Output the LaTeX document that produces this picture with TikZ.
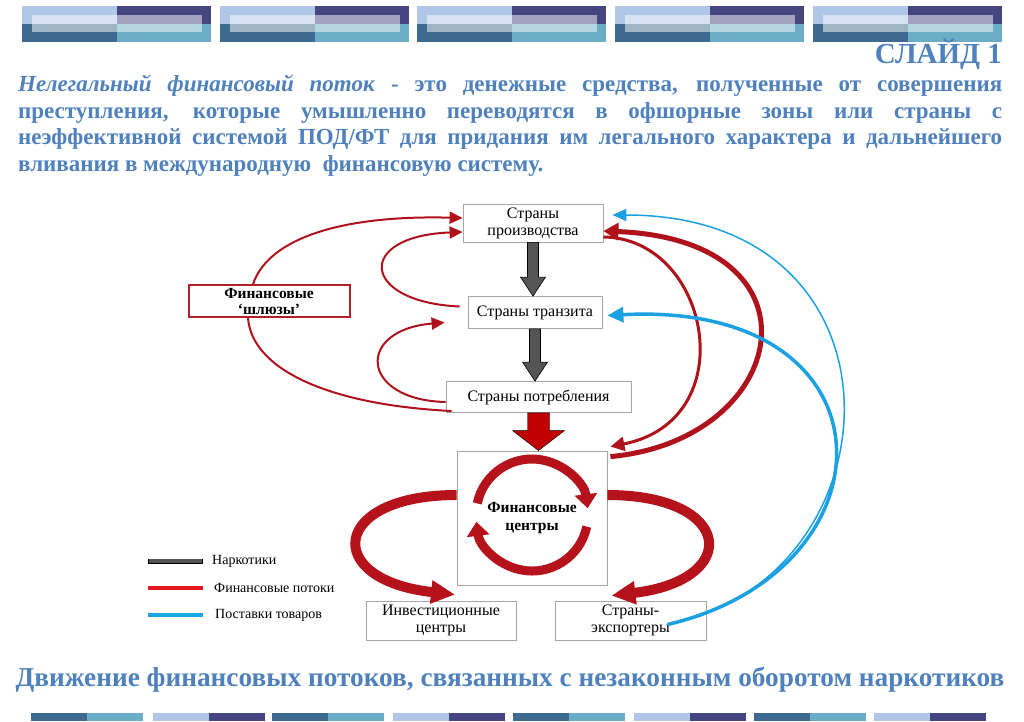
\documentclass[tikz,border=0pt]{standalone}
\usepackage{fontspec}
\setmainfont{Liberation Serif}
\usepackage{xcolor}
\usetikzlibrary{arrows.meta,calc}

\definecolor{slideblue}{HTML}{4F81BD}
\definecolor{bannerlight}{HTML}{B0C7E8}
\definecolor{bannernavy}{HTML}{45457F}
\definecolor{bannerdark}{HTML}{3E6A8F}
\definecolor{bannerteal}{HTML}{6AADC5}
\definecolor{boxgray}{HTML}{A6A6A6}
\definecolor{gatered}{HTML}{B4202A}
\definecolor{flowred}{HTML}{B0121B}
\definecolor{ribbonred}{HTML}{B5121B}
\definecolor{blockred}{HTML}{C00000}
\definecolor{druggray}{HTML}{555555}
\definecolor{supplyblue}{HTML}{1BA1E2}
\definecolor{legendred}{HTML}{E3161C}
\definecolor{legendblue}{HTML}{1BA8E0}

\tikzset{
  box/.style={draw=boxgray, fill=white, line width=0.8pt, align=center, inner sep=0pt,
    font=\fontsize{16}{17}\selectfont},
  gatebox/.style={draw=gatered, fill=white, line width=2pt, align=center, inner sep=0pt,
    font=\bfseries\fontsize{15.5}{16}\selectfont},
  blockarrow/.style n args={3}{to path={let \p1=(\tikztostart), \p2=(\tikztotarget) in
    (\x1-#1,\y1) -- (\x1-#1,\y2+#3) -- (\x1-#2,\y2+#3) -- (\x1,\y2)
    -- (\x1+#2,\y2+#3) -- (\x1+#1,\y2+#3) -- (\x1+#1,\y1) -- cycle}},
  drugarrow/.style={draw=black, fill=druggray, line width=0.6pt, blockarrow={5.5pt}{12.5pt}{19pt}},
  moneyblock/.style={fill=blockred, blockarrow={11pt}{26pt}{20pt}},
  flowthin/.style={draw=flowred, line width=2pt, -{Triangle[length=13pt,width=12pt]}},
  flowmid/.style={draw=flowred, line width=3pt, -{Triangle[length=14pt,width=14pt]}},
  flowthick/.style={draw=flowred, line width=5pt, -{Triangle[length=15pt,width=17pt]}},
  ribbon/.style={draw=ribbonred, line width=10pt, -{Triangle[length=24pt,width=22pt]}},
  cycleflow/.style={draw=ribbonred, line width=9pt, -{Triangle[length=14pt,width=22pt]}},
  supplythin/.style={draw=supplyblue, line width=1.5pt, -{Triangle[length=14pt,width=12pt]}},
  supplythick/.style={draw=supplyblue, line width=3.5pt, -{Triangle[length=16pt,width=15pt]}},
  legendtext/.style={anchor=west, inner sep=0pt, font=\fontsize{14}{15}\selectfont},
  bodyline/.style={anchor=base west, inner sep=0pt, text=slideblue,
    font=\bfseries\fontsize{23}{26}\selectfont},
}

\begin{document}
\begin{tikzpicture}[x=1pt,y=-1pt]
\useasboundingbox (0,0) rectangle (1024,721);
\fill[white] (0,0) rectangle (1024,721);

% top banner
\foreach \l in {22,220,417,615,813}{
  \fill[bannerlight] (\l,6) rectangle ++(94.5,18);
  \fill[bannernavy] (\l+94.5,6) rectangle ++(94.5,18);
  \fill[bannerdark] (\l,24) rectangle ++(94.5,18);
  \fill[bannerteal] (\l+94.5,24) rectangle ++(94.5,18);
  \fill[white, opacity=0.5] (\l+10,15) rectangle ++(170,17);
}
% bottom banner
\foreach \l in {31,272,513,754}{
  \fill[bannerdark] (\l,713) rectangle ++(56,8);
  \fill[bannerteal] (\l+56,713) rectangle ++(56,8);
}
\foreach \l in {153,393,634,874}{
  \fill[bannerlight] (\l,713) rectangle ++(56,8);
  \fill[bannernavy] (\l+56,713) rectangle ++(56,8);
}

\node[anchor=base east, inner sep=0pt, text=slideblue, font=\bfseries\fontsize{29}{30}\selectfont]
  (slide) at (1002,63) {СЛАЙД 1};
\node[bodyline] (line1) at (18,91) {\makebox[984pt][s]{\textit{Нелегальный финансовый поток} - это денежные средства, полученные от совершения}};
\node[bodyline] (line2) at (18,118) {\makebox[984pt][s]{преступления, которые умышленно переводятся в офшорные зоны или страны с}};
\node[bodyline] (line3) at (18,144.5) {\makebox[984pt][s]{неэффективной системой ПОД/ФТ для придания им легального характера и дальнейшего}};
\node[bodyline] (line4) at (18,171) {вливания в международную\ \ финансовую систему.};

% boxes
\node[box, minimum width=140pt, minimum height=38pt] (prod) at (533,223) {Страны\\производства};
\node[box, minimum width=134pt, minimum height=32pt] (trans) at (535,312.5) {Страны транзита};
\node[box, minimum width=185pt, minimum height=31pt] (cons) at (538.5,397) {Страны потребления};
\node[box, minimum width=150pt, minimum height=134pt, font=\bfseries\fontsize{15.5}{17.5}\selectfont]
  (fin) at (532,518) {Финансовые\\центры};
\node[box, minimum width=150pt, minimum height=39pt] (invest) at (441,620.5) {Инвестиционные\\центры};
\node[box, minimum width=151pt, minimum height=39pt] (export) at (630.5,620.5) {Страны-\\экспортеры};
\node[gatebox, minimum width=161pt, minimum height=32pt] (gate) at (269,301) {Финансовые\\‘шлюзы’};

% drugs
\draw[drugarrow] (prod.south) to (trans.north);
\draw[drugarrow] (trans.south) to (cons.north);
\draw[moneyblock] (cons.south) to (fin.north);

% left loops
\draw[flowthin, -] ([xshift=6pt,yshift=-14pt]cons.west) .. controls (330,405) and (252,370) .. ([xshift=-21pt]gate.south);
\draw[flowthin] ([xshift=-16pt]gate.north) .. controls (270,235) and (350,215) .. ([yshift=5pt]prod.west);
\draw[flowthin] ([xshift=-8pt,yshift=6pt]trans.west) .. controls (360,302) and (355,236) .. ([yshift=-9pt]prod.west);
\coordinate (transin) at ([xshift=-23pt,yshift=-10pt]trans.west);
\draw[flowthin] ([yshift=-5pt]cons.west) .. controls (360,400) and (355,330) .. (transin);

% right loops
\draw[flowthick] ([xshift=3pt,yshift=-6pt]fin.north east) .. controls (790,440) and (830,240) .. ([yshift=-8pt]prod.east);
\draw[flowmid] ([yshift=-14pt]prod.east) .. controls (710,238) and (745,420) .. ([xshift=3pt,yshift=4pt]fin.north east);

% supplies
\coordinate (exportout) at ([xshift=37pt,yshift=-4pt]export.center);
\draw[supplythin] (exportout) .. controls (900,580) and (920,215) .. ([xshift=9pt,yshift=8pt]prod.east);
\draw[supplythick] (exportout) .. controls (900,570) and (900,300) .. ([xshift=5pt,yshift=-3pt]trans.east);

% out of the centres
\draw[ribbon] ([yshift=23pt]fin.west) .. controls (330,495) and (322,580) .. ([xshift=14pt,yshift=6pt]invest.north);
\draw[ribbon] ([yshift=23pt]fin.east) .. controls (734,495) and (742,580) .. ([xshift=-19pt,yshift=5pt]export.north);
\coordinate (hub) at (532,515);
\draw[cycleflow] (hub) ++(-168:56) arc[start angle=-168, end angle=-7, radius=56];
\draw[cycleflow] (hub) ++(12:56) arc[start angle=12, end angle=173, radius=56];

% legend
\draw[line width=5pt] (148,561) -- (203,561);
\draw[druggray, line width=3.4pt] (148.8,561) -- (202.2,561);
\node[legendtext] (legdrugs) at (212,561) {Наркотики};
\draw[legendred, line width=4pt] (148,588) -- (203,588);
\node[legendtext] (legmoney) at (214,588) {Финансовые потоки};
\draw[legendblue, line width=4pt] (148,615) -- (203,615);
\node[legendtext] (legsupply) at (215,615) {Поставки товаров};

\node[anchor=base, inner sep=0pt, text=slideblue, font=\bfseries\fontsize{27.3}{30}\selectfont]
  (caption) at (510,686) {Движение финансовых потоков, связанных с незаконным оборотом наркотиков};
\end{tikzpicture}
\end{document}
